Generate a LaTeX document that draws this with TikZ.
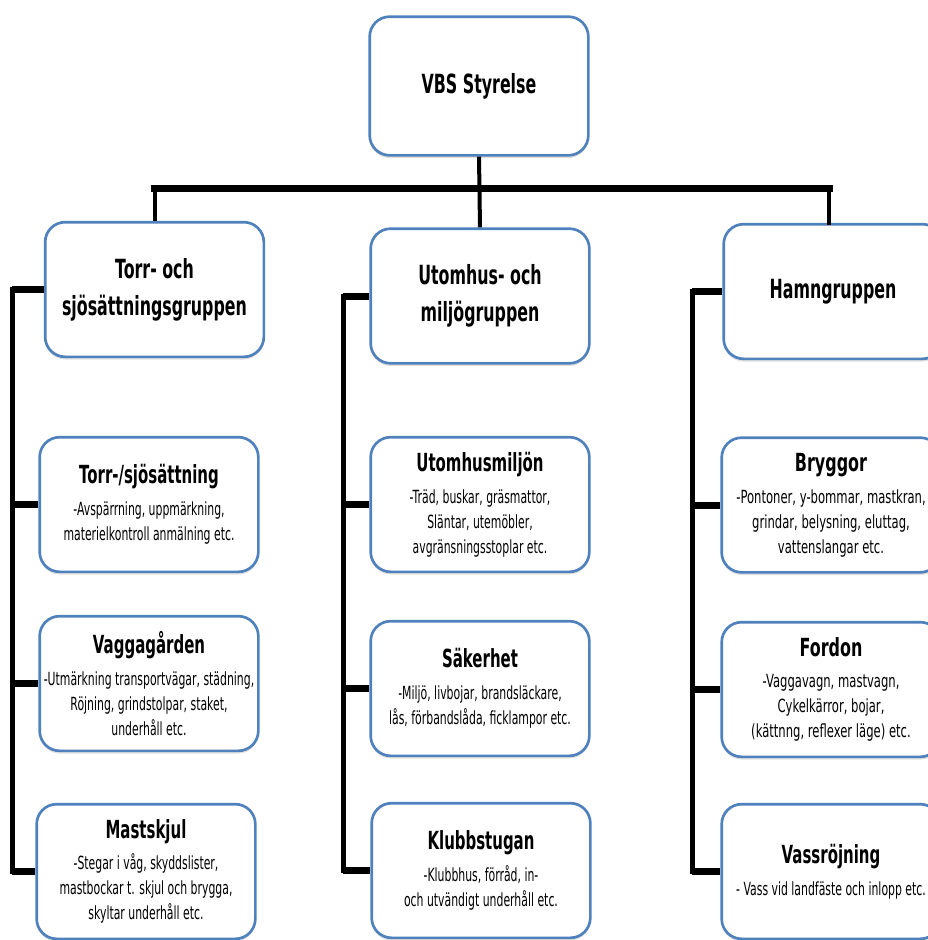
\documentclass[tikz,border=0pt]{standalone}
\usepackage{fontspec}
\setmainfont{DejaVu Sans}[FakeStretch=0.6]
\newfontfamily\widefont{DejaVu Sans}[FakeStretch=0.64]
\usetikzlibrary{shadows}

\definecolor{boxblue}{RGB}{79,129,189}
\newcommand{\grpttl}{\fontsize{19.8}{28}\selectfont\bfseries}
\newcommand{\ttl}{\fontsize{18.7}{21}\selectfont\bfseries}
\newcommand{\txt}{\fontsize{13.6}{18.75}\selectfont}

\begin{document}
\begin{tikzpicture}[x=0.75pt, y=-0.75pt,
    bus/.style={line width=5.25pt, line cap=rect},
    drop/.style={line width=3pt},
    trunk/.style={line width=3.75pt, line cap=rect},
    stub/.style={line width=5.25pt}]

\useasboundingbox (0, 0) rectangle (928, 940);

\begin{scope}[every node/.style={draw=boxblue, line width=2pt, rounded corners=15pt,
        fill=white, align=center, inner sep=0pt, font=\txt,
        minimum width=164pt, minimum height=101pt,
        drop shadow={shadow xshift=0pt, shadow yshift=-2pt, opacity=0.25}}]
    \node (vbs) at (479, 86) [minimum height=104pt, font=\grpttl] {VBS Styrelse};

    \node (grp1) at (154.5, 289.5) [font=\grpttl] {Torr- och\\sjösättningsgruppen};
    \node (grp2) at (480, 296) [font=\grpttl] {Utomhus- och\\miljögruppen};
    \node (grp3) at (833, 291.5) [font=\grpttl] {Hamngruppen};

    \node (t1) at (149, 504.5) {{\ttl Torr-/sjösättning}\\[5pt]-Avspärrning, uppmärkning,\\materielkontroll anmälning etc.};
    \node (t2) at (149, 683.5) {{\ttl Vaggagården}\\[5pt]-Utmärkning transportvägar, städning,\\Röjning, grindstolpar, staket,\\underhåll etc.};
    \node (t3) at (146, 871.5) {{\ttl Mastskjul}\\[5pt]-Stegar i våg, skyddslister,\\mastbockar t. skjul och brygga,\\skyltar underhåll etc.};

    \node (u1) at (480, 504.5) {{\ttl Utomhusmiljön}\\[5pt]-Träd, buskar, gräsmattor,\\Släntar, utemöbler,\\avgränsningsstoplar etc.};
    \node (u2) at (480, 688.5) {{\ttl Säkerhet}\\[5pt]-Miljö, livbojar, brandsläckare,\\lås, förbandslåda, ficklampor etc.};
    \node (u3) at (481, 870.5) {{\ttl Klubbstugan}\\[5pt]-Klubbhus, förråd, in-\\och utvändigt underhåll etc.};

    % the harbour column is set a little wider
    \node (h1) at (831, 505) [font=\txt\widefont] {{\ttl Bryggor}\\[5pt]-Pontoner, y-bommar, mastkran,\\grindar, belysning, eluttag,\\vattenslangar etc.};
    \node (h2) at (831, 689.5) [font=\txt\widefont] {{\ttl Fordon}\\[5pt]-Vaggavagn, mastvagn,\\Cykelkärror, bojar,\\(kättnng, reflexer läge) etc.};
    \node (h3) at (831, 871.5) {{\ttl Vassröjning}\\[5pt]- Vass vid landfäste och inlopp etc.};
\end{scope}

% styrelse to the groups
\coordinate (bus) at (479, 188);
\draw [bus] (grp1.north |- bus) -- (829, 188);
\draw [drop] (grp1.north) -- (grp1.north |- bus);
\draw [drop] (vbs.south) -- (grp2.north);
\draw [drop] (829, 188) -- (829, 225);

% groups to their tasks
\coordinate (lt) at (12, 0);
\coordinate (mt) at (343, 0);
\coordinate (rt) at (692, 0);
\draw [trunk] (lt |- grp1.west) -- (lt |- t3.west);
\draw [trunk] (mt |- grp2.west) -- (mt |- u3.west);
\draw [trunk] (rt |- grp3.west) -- (rt |- h3.west);
\foreach \n in {grp1, t1, t2, t3}
    \draw [stub] (lt |- \n.west) -- (\n.west);
\foreach \n in {grp2, u1, u2, u3}
    \draw [stub] (mt |- \n.west) -- (\n.west);
\foreach \n in {grp3, h1, h2, h3}
    \draw [stub] (rt |- \n.west) -- (\n.west);

\end{tikzpicture}
\end{document}
